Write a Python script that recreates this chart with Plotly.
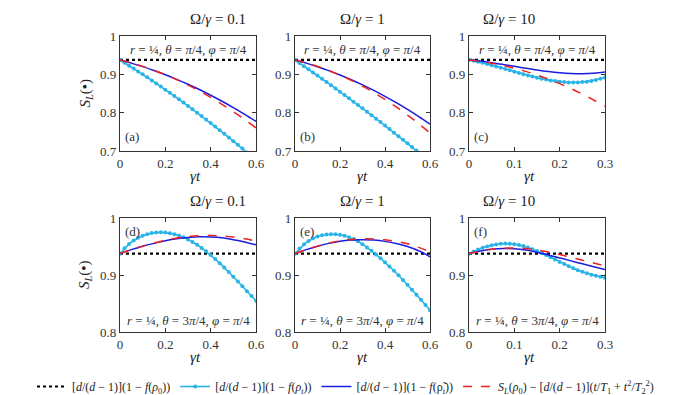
import plotly.graph_objects as go

# --- data ---
S0 = 0.9375  # [d/(d-1)](1 - f(rho_0))

# time grids
t_dense_06 = [round(0.02 * i, 2) for i in range(31)]
t_dense_03 = [round(0.01 * i, 2) for i in range(31)]
t_coarse_06 = [round(0.05 * i, 2) for i in range(13)]
t_coarse_03 = [round(0.025 * i, 3) for i in range(13)]

# (a) Omega/gamma = 0.1, theta = pi/4
cyan_a = [0.9375, 0.9302, 0.9227, 0.9152, 0.9076, 0.8999, 0.8921, 0.8842, 0.8762, 0.8681,
          0.8599, 0.8517, 0.8433, 0.8348, 0.8263, 0.8176, 0.8088, 0.8000, 0.7910, 0.7820,
          0.7729, 0.7636, 0.7543, 0.7449, 0.7354, 0.7257, 0.7160, 0.7062, 0.6963, 0.6863, 0.6763]
blue_a = [0.9375, 0.9293, 0.9201, 0.9100, 0.8990, 0.8870, 0.8741, 0.8603, 0.8455, 0.8298, 0.8131, 0.7955, 0.7770]
red_a = [0.9375, 0.9298, 0.9208, 0.9105, 0.8990, 0.8861, 0.8720, 0.8565, 0.8398, 0.8218, 0.8025, 0.7819, 0.7600]

# (b) Omega/gamma = 1, theta = pi/4
cyan_b = [0.9375, 0.9295, 0.9214, 0.9132, 0.9051, 0.8968, 0.8885, 0.8801, 0.8717, 0.8632,
          0.8547, 0.8461, 0.8375, 0.8288, 0.8200, 0.8112, 0.8023, 0.7934, 0.7844, 0.7754,
          0.7663, 0.7572, 0.7479, 0.7387, 0.7294, 0.7200, 0.7106, 0.7011, 0.6916, 0.6820, 0.6723]
blue_b = [0.9375, 0.9293, 0.9200, 0.9097, 0.8984, 0.8860, 0.8726, 0.8581, 0.8426, 0.8261, 0.8085, 0.7899, 0.7702]
red_b = [0.9375, 0.9299, 0.9207, 0.9101, 0.8980, 0.8844, 0.8692, 0.8526, 0.8345, 0.8149, 0.7937, 0.7711, 0.7470]

# (c) Omega/gamma = 10, theta = pi/4
cyan_c = [0.9375, 0.9352, 0.9326, 0.9299, 0.9269, 0.9238, 0.9205, 0.9172, 0.9138, 0.9104,
          0.9070, 0.9036, 0.9004, 0.8972, 0.8942, 0.8913, 0.8887, 0.8862, 0.8841, 0.8823,
          0.8808, 0.8797, 0.8790, 0.8788, 0.8790, 0.8797, 0.8809, 0.8828, 0.8852, 0.8883, 0.8920]
blue_c = [0.9375, 0.9345, 0.9305, 0.9259, 0.9210, 0.9160, 0.9113, 0.9072, 0.9040, 0.9020, 0.9014, 0.9027, 0.9060]
red_c = [0.9375, 0.9339, 0.9291, 0.9231, 0.9160, 0.9077, 0.8982, 0.8875, 0.8757, 0.8627, 0.8485, 0.8331, 0.8166]

# (d) Omega/gamma = 0.1, theta = 3pi/4
cyan_d = [0.9375, 0.9470, 0.9545, 0.9605, 0.9655, 0.9690, 0.9717, 0.9736, 0.9746, 0.9749,
          0.9745, 0.9734, 0.9716, 0.9692, 0.9662, 0.9625, 0.9580, 0.9530, 0.9475, 0.9415,
          0.9350, 0.9280, 0.9207, 0.9131, 0.9052, 0.8970, 0.8887, 0.8802, 0.8717, 0.8632, 0.8547]
blue_d = [0.9375, 0.9445, 0.9505, 0.9555, 0.9600, 0.9635, 0.9658, 0.9670, 0.9668, 0.9652, 0.9620, 0.9580, 0.9530]
red_d = [0.9375, 0.9445, 0.9507, 0.9560, 0.9610, 0.9648, 0.9675, 0.9690, 0.9693, 0.9685, 0.9665, 0.9635, 0.9595]

# (e) Omega/gamma = 1, theta = 3pi/4
cyan_e = [0.9375, 0.9465, 0.9538, 0.9597, 0.9643, 0.9676, 0.9698, 0.9711, 0.9716, 0.9714,
          0.9705, 0.9688, 0.9663, 0.9630, 0.9590, 0.9540, 0.9484, 0.9424, 0.9360, 0.9293,
          0.9225, 0.9150, 0.9074, 0.8996, 0.8914, 0.8830, 0.8743, 0.8655, 0.8565, 0.8473, 0.8380]
blue_e = [0.9375, 0.9445, 0.9505, 0.9555, 0.9592, 0.9613, 0.9620, 0.9612, 0.9590, 0.9553, 0.9500, 0.9425, 0.9320]
red_e = [0.9375, 0.9445, 0.9507, 0.9560, 0.9600, 0.9625, 0.9635, 0.9632, 0.9617, 0.9590, 0.9548, 0.9485, 0.9405]

# (f) Omega/gamma = 10, theta = 3pi/4
cyan_f = [0.9375, 0.9413, 0.9447, 0.9477, 0.9502, 0.9522, 0.9537, 0.9547, 0.9551, 0.9549,
          0.9541, 0.9527, 0.9507, 0.9482, 0.9453, 0.9421, 0.9386, 0.9349, 0.9310, 0.9270,
          0.9230, 0.9191, 0.9153, 0.9117, 0.9084, 0.9055, 0.9029, 0.9006, 0.8986, 0.8968, 0.8952]
blue_f = [0.9375, 0.9420, 0.9450, 0.9465, 0.9462, 0.9440, 0.9400, 0.9350, 0.9300, 0.9248, 0.9196, 0.9145, 0.9095]
red_f = [0.9375, 0.9420, 0.9452, 0.9470, 0.9475, 0.9465, 0.9440, 0.9405, 0.9360, 0.9310, 0.9260, 0.9210, 0.9160]

omega_labels = ["0.1", "1", "10"]
panel_labels = ["(a)", "(b)", "(c)", "(d)", "(e)", "(f)"]
param_top = "<i>r</i> = ¼, <i>θ</i> = <i>π</i>/4, <i>φ</i> = <i>π</i>/4"
param_bot = "<i>r</i> = ¼, <i>θ</i> = 3<i>π</i>/4, <i>φ</i> = <i>π</i>/4"
legend_names = [
    "[<i>d</i>/(<i>d</i> − 1)](1 − <i>f</i>(<i>ρ</i><sub>0</sub>))",
    "[<i>d</i>/(<i>d</i> − 1)](1 − <i>f</i>(<i>ρ<sub>t</sub></i>))",
    "[<i>d</i>/(<i>d</i> − 1)](1 − <i>f</i>(ρ\u0303<sub><i>t</i></sub>))",
    "<i>S<sub>L</sub></i>(<i>ρ</i><sub>0</sub>) − [<i>d</i>/(<i>d</i> − 1)](<i>t</i>/<i>T</i><sub>1</sub> + <i>t</i><sup>2</sup>/<i>T</i><sub>2</sub><sup>2</sup>)",
]

panels = [
    (t_dense_06, cyan_a, t_coarse_06, blue_a, red_a, 0.6, [0.7, 1.0]),
    (t_dense_06, cyan_b, t_coarse_06, blue_b, red_b, 0.6, [0.7, 1.0]),
    (t_dense_03, cyan_c, t_coarse_03, blue_c, red_c, 0.3, [0.7, 1.0]),
    (t_dense_06, cyan_d, t_coarse_06, blue_d, red_d, 0.6, [0.8, 1.0]),
    (t_dense_06, cyan_e, t_coarse_06, blue_e, red_e, 0.6, [0.8, 1.0]),
    (t_dense_03, cyan_f, t_coarse_03, blue_f, red_f, 0.3, [0.8, 1.0]),
]

# --- layout geometry ---
W, H = 675, 395
col_px = [(112, 248), (287, 422), (461, 597)]
row_px = [(28, 143), (210, 324)]

FONT = "'Liberation Serif', 'DejaVu Serif', serif"
CYAN = "#28b4e6"
BLUE = "#1c1ce0"
RED = "#f02020"

fig = go.Figure()
annotations = []
layout_axes = {}

for i, (tc, yc, tl, yb, yr, tmax, yrange) in enumerate(panels):
    row, col = divmod(i, 3)
    n = "" if i == 0 else str(i + 1)
    xa, ya = "x" + n, "y" + n
    show = i == 0

    fig.add_trace(go.Scatter(x=[0, tmax], y=[S0, S0], xaxis=xa, yaxis=ya, mode="lines",
                             line=dict(color="black", width=2.2, dash="dot"),
                             name=legend_names[0], showlegend=show))
    fig.add_trace(go.Scatter(x=tc, y=yc, xaxis=xa, yaxis=ya, mode="lines+markers",
                             line=dict(color=CYAN, width=1.6), marker=dict(size=4, color=CYAN),
                             name=legend_names[1], showlegend=show))
    fig.add_trace(go.Scatter(x=tl, y=yb, xaxis=xa, yaxis=ya, mode="lines", line_shape="spline",
                             line=dict(color=BLUE, width=1.5),
                             name=legend_names[2], showlegend=show))
    fig.add_trace(go.Scatter(x=tl, y=yr, xaxis=xa, yaxis=ya, mode="lines", line_shape="spline",
                             line=dict(color=RED, width=1.5, dash="dash"),
                             name=legend_names[3], showlegend=show))

    x0, x1 = col_px[col]
    y0, y1 = row_px[row]
    step = 0.2 if tmax == 0.6 else 0.1
    axis_common = dict(showline=True, linecolor="#333", linewidth=1.3, mirror="ticks",
                       ticks="inside", ticklen=4, tickcolor="#333", showgrid=False, zeroline=False,
                       tickfont=dict(family=FONT, size=13, color="#333"))
    layout_axes["xaxis" + n] = dict(axis_common, domain=[x0 / W, x1 / W], range=[0, tmax],
                                    anchor=ya, dtick=step, tick0=0)
    layout_axes["yaxis" + n] = dict(axis_common, domain=[1 - y1 / H, 1 - y0 / H], range=yrange,
                                    anchor=xa, dtick=0.1, tick0=0)

    # column title
    annotations.append(dict(text="Ω/<i>γ</i> = " + omega_labels[col], xref="paper", yref="paper",
                            x=(x0 + x1) / 2 / W, y=1 - (y0 - 17) / H, showarrow=False,
                            font=dict(family=FONT, size=15, color="#222"), yanchor="middle"))
    # x title
    annotations.append(dict(text="<i>γt</i>", xref="paper", yref="paper",
                            x=(x0 + x1) / 2 / W, y=1 - (y1 + 25) / H, showarrow=False,
                            font=dict(family=FONT, size=15, color="#222"), yanchor="middle"))
    # parameter text
    annotations.append(dict(text=param_top if row == 0 else param_bot,
                            xref=xa + " domain", yref=ya + " domain", x=0.5,
                            y=0.885 if row == 0 else 0.1, showarrow=False,
                            font=dict(family=FONT, size=13, color="#333"), yanchor="middle"))
    # panel label
    annotations.append(dict(text=panel_labels[i], xref=xa + " domain", yref=ya + " domain",
                            x=0.02, y=0.13 if row == 0 else 0.88, xanchor="left", showarrow=False,
                            font=dict(family=FONT, size=13, color="#333"), yanchor="middle"))
    # y title on left column
    if col == 0:
        annotations.append(dict(text="<i>S<sub>L</sub></i>(•)", xref="paper", yref="paper",
                                x=77 / W, y=1 - (y0 + y1) / 2 / H, textangle=-90, showarrow=False,
                                font=dict(family=FONT, size=15, color="#222"),
                                xanchor="center", yanchor="middle"))

fig.update_layout(
    width=W, height=H,
    margin=dict(l=0, r=0, t=0, b=0, autoexpand=False),
    paper_bgcolor="white", plot_bgcolor="white",
    annotations=annotations,
    showlegend=True,
    legend=dict(orientation="h", xref="container", yref="container",
                x=0.5, xanchor="center", y=2 / H, yanchor="bottom",
                font=dict(family=FONT, size=12, color="#222"), bgcolor="rgba(0,0,0,0)",
                itemwidth=30, tracegroupgap=0),
    **layout_axes,
)

fig.write_html("out.html")
